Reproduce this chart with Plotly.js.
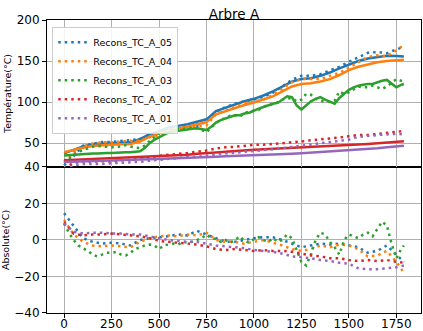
<!DOCTYPE html>
<html>
<head>
<meta charset="utf-8">
<script src="https://cdn.plot.ly/plotly-3.0.1.min.js"></script>
<style>html,body{margin:0;padding:0;background:#fff;}#chart{width:423px;height:331px;}</style>
</head>
<body>
<div id="chart"></div>
<script>
// ---- data ----
const title = "Arbre A";
const seriesNames = ["Recons_TC_A_05","Recons_TC_A_04","Recons_TC_A_03","Recons_TC_A_02","Recons_TC_A_01"];
const colors = ["#1f77b4","#ff7f0e","#2ca02c","#d62728","#9467bd"];
const xTicks = [0,250,500,750,1000,1250,1500,1750];
const yTopTicks = [50,100,150,200];
const yBotTicks = [-40,-20,0,20,40];

const x50 = [0,50,100,150,200,250,300,350,400,450,500,550,600,650,700,750,800,850,900,950,1000,1050,1100,1150,1200,1250,1300,1350,1400,1450,1500,1550,1600,1650,1700,1750,1790];
const x25 = [0,25,50,75,100,125,150,175,200,225,250,275,300,325,350,375,400,425,450,475,500,525,550,575,600,625,650,675,700,725,750,775,800,825,850,875,900,925,950,975,1000,1025,1050,1075,1100,1125,1150,1175,1200,1225,1250,1275,1300,1325,1350,1375,1400,1425,1450,1475,1500,1525,1550,1575,1600,1625,1650,1675,1700,1725,1750,1775,1790];

// measured (solid) temperatures
const meas05 = [37.5,42,46,48.5,49.5,50,50.5,51,55,61,64.5,69,71,73,76,79,89,93,97,101,104,108,113,119,125,128,129,132,136,141,146,150,153,155,156.5,156,155.5];
const meas04 = [39,42,44.5,46.5,47.5,48,48.5,49,52,58,61.5,66,68,70,73,75.5,85,89,93,96.5,99.5,103,107,113,119,122,123,125,128,133,139,143,146,148.5,150,151,151.5];
const meas03 = [35,35.5,36,36.5,37,37,37.5,37.5,38,38,38,38.5,38.5,39,39,39.5,40,44,50,54,57,61,63,64,65,66,67,67.5,68,67,66,70,75,78,80,82,84,84,86,87,90,92,94,96,98,99,103,107,106,96,91,96,101,104,106,103,100,98,105,110,115,118,120,121,122,122,124,126,127,122,118,121,122];
const meas02 = [29,29.5,30,30.5,31,31.5,32,32.5,33,33.5,34,35,35.5,36,37,37.5,38.5,39.5,40.5,41.5,42,42.5,43,43.5,44,44.5,45,45.5,46,46.8,47.5,48.3,49,49.8,50.8,51.8,52.2];
const meas01 = [27,27.5,28,28.3,28.7,29,29.4,29.8,30.2,30.5,30.8,31.2,31.6,32,32.5,33,33.5,34,34.3,34.6,35,35.5,36,36.5,37,37.6,38.3,39,39.6,40.4,41.2,42.1,43,43.9,45,46.3,46.8];

// reconstructed (dotted) temperatures
const rec05 = [22.9,34,47,49.5,51.5,51.5,52.5,54,55,60,63,67,68,70.5,71,76,88,94,98,101,103,106.5,111.5,119,127,132,132,134,138.5,143,149,154,160,161,159.5,164,167.5];
const rec04 = [28,39,45.5,49.5,51,51,52,53,53,57,59.5,63.5,66,67,70.5,71.5,85,90,94,98.5,100.5,103,108.5,116,124,128,128,128,132,135.5,142,148,155,157,156,163,169.5];
const rec03 = [26,31.5,36,39.5,41.5,43,45.5,46.5,46,45,45,45,46.5,47.5,46,44.5,44,47,52.5,57,62,64,65.5,66,67.5,67,68.5,68.5,68,66,63,69,74.5,79,80,83.5,84,82,86.5,88.5,89.5,90.5,94,97,97,100,103,104,105,101,103,110,109,104,102,100,101,102,113,110,112,116,119,118,118,120,118,116,119,124,128,126,125];
const rec02 = [19.2,26,27.5,27.5,28,28,29,30,31,32.5,34.5,36,37,38,39.5,41,43.5,45,45.5,47,48,48,49,49.5,50.5,52,53.5,54.5,56,56.8,58.5,59.8,60,61.3,61.8,63.8,64.7];
const rec01 = [18,23,24.5,24.3,24.7,25.5,25.9,26.8,27.2,28.5,29.8,31.2,32.1,33,33.5,35,36.5,37.5,38.3,39.1,40.5,41.5,42.5,44,46,47.1,48.3,50,51.1,52.9,54.2,57.6,59,59.9,60.5,61.3,60.8];

// absolute differences (lower panel)
const abs05 = [14.6,8,1,-1,-2,-1.5,-2,-3,0,1,1.5,2,3,2.5,5,3,1,-1,-1,0,1,1.5,1.5,0,-2,-4,-3,-2,-2.5,-2,-3,-4,-7,-6,-3,-8,-12];
const abs04 = [11,3,-1,-3,-3.5,-3,-3.5,-4,-1,1,2,2.5,2,3,2.5,4,0,-1,-1,-2,-1,0,-1.5,-3,-5,-6,-5,-3,-4,-2.5,-3,-5,-9,-8.5,-6,-12,-18];
const abs03 = [9,4,0,-3,-4.5,-6,-8,-9,-8,-7,-7,-6.5,-8,-8.5,-7,-5,-4,-3,-2.5,-3,-5,-3,-2.5,-2,-2.5,-1,-1.5,-1,0,1,3,1,0.5,-1,0,-1.5,0,2,-0.5,-1.5,0.5,1.5,0,-1,1,-1,0,3,1,-5,-12,-14,-8,0,4,3,-1,-4,-8,0,3,2,1,3,4,2,6,10,8,-2,-10,-5,-3];
const abs02 = [9.8,3.5,2.5,3,3,3.5,3,2.5,2,1,-0.5,-1,-1.5,-2,-2.5,-3.5,-5,-5.5,-5,-5.5,-6,-5.5,-6,-6,-6.5,-7.5,-8.5,-9,-10,-10,-11,-11.5,-11,-11.5,-11,-12,-12.5];
const abs01 = [9,4.5,3.5,4,4,3.5,3.5,3,3,2,1,0,-0.5,-1,-1,-2,-3,-3.5,-4,-4.5,-5.5,-6,-6.5,-7.5,-9,-9.5,-10,-11,-11.5,-12.5,-13,-15.5,-16,-16,-15.5,-15,-14];

// ---- build traces ----
const font = "DejaVu Sans, Liberation Sans, sans-serif";
const dotDash = "2.5px,4px";
const recon = [[x50,rec05],[x50,rec04],[x25,rec03],[x50,rec02],[x50,rec01]];
const meas = [[x50,meas05],[x50,meas04],[x25,meas03],[x50,meas02],[x50,meas01]];
const absd = [[x50,abs05],[x50,abs04],[x25,abs03],[x50,abs02],[x50,abs01]];

const traces = [];
for (let i = 0; i < 5; i++) {
  traces.push({x: recon[i][0], y: recon[i][1], xaxis:'x2', yaxis:'y2', mode:'lines', name: seriesNames[i],
    line:{color: colors[i], width:2.5, dash: dotDash}, legendrank: i+1});
  traces.push({x: meas[i][0], y: meas[i][1], xaxis:'x2', yaxis:'y2', mode:'lines', showlegend:false,
    line:{color: colors[i], width:2.5}});
}
for (let i = 0; i < 5; i++) {
  traces.push({x: absd[i][0], y: absd[i][1], xaxis:'x', yaxis:'y', mode:'lines', showlegend:false,
    line:{color: colors[i], width:2.5, dash: dotDash}});
}

const axisCommon = {showline:true, mirror:true, linecolor:'#000', linewidth:1, gridcolor:'#b0b0b0', gridwidth:1,
  zeroline:false, tickfont:{family:font, size:12, color:'#000'}, ticks:'outside', ticklen:4, tickcolor:'#000'};

const layout = {
  width:423, height:331,
  margin:{l:47, r:2, t:20, b:18},
  paper_bgcolor:'#fff', plot_bgcolor:'#fff',
  font:{family:font, color:'#000'},
  title:{text:title, x:0.5, xref:'paper', xanchor:'center', y:0.958, yref:'container', yanchor:'middle', font:{family:font, size:13.5, color:'#000'}},
  xaxis: Object.assign({}, axisCommon, {domain:[0,1], anchor:'y', range:[-90,1880], tickvals:xTicks, ticklabelstandoff:-4}),
  xaxis2: Object.assign({}, axisCommon, {domain:[0,1], anchor:'y2', matches:'x', range:[-90,1880], tickvals:xTicks, showticklabels:false, ticks:''}),
  yaxis: Object.assign({}, axisCommon, {domain:[0,0.4985], anchor:'x', range:[-40,40], tickvals:yBotTicks, automargin:true,
    ticktext: yBotTicks.map(v => v < 0 ? '\u2212' + Math.abs(v) : String(v)),
    title:{text:'Absolute(°C)', font:{family:font, size:9.5, color:'#000'}, standoff:3}}),
  yaxis2: Object.assign({}, axisCommon, {domain:[0.4985,1], anchor:'x2', range:[21,200], tickvals:yTopTicks, automargin:true,
    title:{text:'Température(°C)', font:{family:font, size:9.5, color:'#000'}, standoff:3}}),
  legend:{x:0.014, y:0.977, xref:'paper', yref:'paper', xanchor:'left', yanchor:'top',
    bgcolor:'rgba(255,255,255,0.85)', bordercolor:'#cccccc', borderwidth:1,
    font:{family:font, size:9.5, color:'#000'}, tracegroupgap:0, itemwidth:30},
  showlegend:true
};

Plotly.newPlot('chart', traces, layout, {displayModeBar:false, staticPlot:true});
</script>
</body>
</html>
